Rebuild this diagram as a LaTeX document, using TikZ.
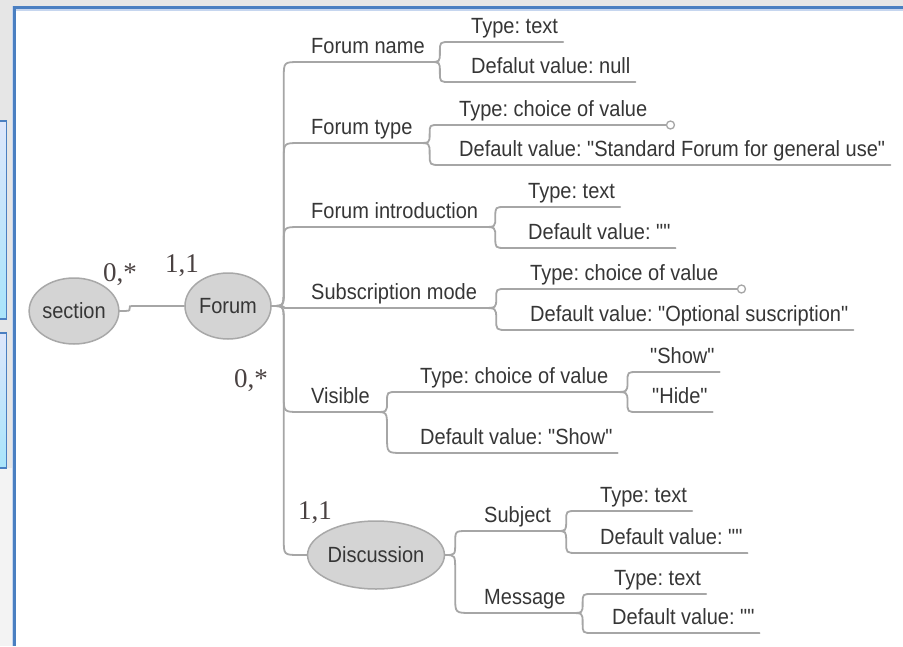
\documentclass[tikz,border=0pt]{standalone}
\usepackage{fontspec}
\setmainfont{Liberation Sans}[FakeStretch=0.91, Ligatures=TeXOff]
\newfontfamily\numfont{Liberation Serif}
\usetikzlibrary{shapes.geometric,calc}

\definecolor{framebg}{HTML}{E6E6E6}
\definecolor{paneltail}{HTML}{F3F3F3}
\definecolor{frameblue}{HTML}{4A7FC1}
\definecolor{framelight}{HTML}{C6D6EF}
\definecolor{boxtop}{HTML}{DDE6FB}
\definecolor{boxbot}{HTML}{A8E4FB}
\definecolor{linkgray}{HTML}{A6A6A6}
\definecolor{ovalfill}{HTML}{D4D4D4}
\definecolor{ovaledge}{HTML}{A8A8A8}
\definecolor{ink}{HTML}{363636}
\definecolor{numink}{HTML}{4A4242}

\frenchspacing
\begin{document}
\begin{tikzpicture}[x=1pt,y=-1pt,
  every node/.style={font=\fontsize{22}{24}\selectfont, text=ink},
  oval/.style={ellipse, draw=ovaledge, fill=ovalfill, line width=1.5pt, inner sep=0pt},
  leaf/.style={anchor=south west, inner xsep=5pt, inner ysep=0pt, text height=16pt, text depth=8pt},
  card/.style={font=\numfont\fontsize{27}{30}\selectfont, text=numink, anchor=base west, inner sep=0pt},
  link/.style={draw=linkgray, line width=1.8pt, line cap=round},
  knob/.style={circle, draw=linkgray, fill=white, line width=1.3pt, minimum size=8pt, inner sep=0pt},
  trunk/.store in=\trunkd, trunk=12,
  branch/.style={to path={let \p1=(\tikztostart), \p2=(\tikztotarget),
     \n1={ifthenelse(\y2>\y1,1,-1)}, \n2={min(abs(\y2-\y1)/2,16pt)} in
     (\p1) .. controls (\x1+\trunkd*1pt,\y1) .. (\x1+\trunkd*1pt,\y1+\n1*\n2*1pt)
     -- (\x1+\trunkd*1pt,\y2-\n1*\n2*1pt)
     .. controls (\x1+\trunkd*1pt,\y2) .. (\x1+\trunkd*1pt+\n2*1pt,\y2)
     -- (\p2)}}
]
\useasboundingbox (0,0) rectangle (903,646);

% window background and frame
\fill[framebg] (0,0) rectangle (903,646);
\fill[paneltail] (0,468) rectangle (12,646);
\fill[white] (15.5,9) rectangle (903,646);
\fill[framelight] (15.5,9) rectangle (903,10.5);
\fill[framelight] (12,6) rectangle (13,646);
\draw[frameblue, line width=3pt] (14.5,646) -- (14.5,7.5) -- (903,7.5);
\shadedraw[top color=boxtop, bottom color=boxbot, draw=frameblue, line width=1.5pt]
  (-5,121) rectangle (6.5,319);
\shadedraw[top color=boxtop, bottom color=boxbot, draw=frameblue, line width=1.5pt]
  (-5,333) rectangle (6.5,468);

% entities
\node[oval, minimum width=88pt, minimum height=66pt] (section) at (74,311) {section};
\node[oval, minimum width=86pt, minimum height=66pt] (forum) at (228,306) {Forum};
\node[oval, minimum width=134pt, minimum height=68pt] (discussion) at (376,555) {Discussion};

% cardinalities
\node[card] (cardA) at (103,281) {0,*};
\node[card] (cardB) at (165,272) {1,1};
\node[card] (cardC) at (234,387) {0,*};
\node[card] (cardD) at (298,519) {1,1};

% attributes of Forum
\node[leaf] (fname)  at (306,62)  {Forum name};
\node[leaf] (ftype)  at (306,143) {Forum type};
\node[leaf] (fintro) at (306,227) {Forum introduction};
\node[leaf] (fsub)   at (306,308) {Subscription mode};
\node[leaf] (fvis)   at (306,412) {Visible};

\node[leaf] (fnameT)  at (466,42)  {Type: text};
\node[leaf] (fnameD)  at (466,82)  {Defalut value: null};
\node[leaf] (ftypeT)  at (454,125) {Type: choice of value};
\node[leaf] (ftypeD)  at (454,165) {Default value: "Standard Forum for general use"};
\node[leaf] (fintroT) at (523,207) {Type: text};
\node[leaf] (fintroD) at (523,248) {Default value: ""};
\node[leaf] (fsubT)   at (525,289) {Type: choice of value};
\node[leaf] (fsubD)   at (525,330) {Default value: "Optional suscription"};
\node[leaf] (fvisT)   at (415,392) {Type: choice of value};
\node[leaf] (fvisD)   at (415,453) {Default value: "Show"};
\node[leaf] (show)    at (645,372) {"Show"};
\node[leaf] (hide)    at (647,412) {"Hide"};

% attributes of Discussion
\node[leaf] (subj)  at (479,531) {Subject};
\node[leaf] (msg)   at (479,613) {Message};
\node[leaf] (subjT) at (595,511) {Type: text};
\node[leaf] (subjD) at (595,553) {Default value: ""};
\node[leaf] (msgT)  at (609,594) {Type: text};
\node[leaf] (msgD)  at (607,633) {Default value: ""};

\coordinate (ftypeK) at ([xshift=18pt]ftypeT.south east);
\coordinate (fsubK)  at ([xshift=18pt]fsubT.south east);

% connectors
\draw[link, trunk=10] (section.east) to[branch] (forum.west);
\foreach \c in {fname,ftype,fintro,fsub,fvis}
  \draw[link, trunk=12] (forum.east) to[branch] (\c.south west) -- (\c.south east);
\draw[link, trunk=12] (forum.east) to[branch] (discussion.west);

\draw[link, trunk=10] (fname.south east) to[branch] (fnameT.south west) -- (fnameT.south east);
\draw[link, trunk=10] (fname.south east) to[branch] (fnameD.south west) -- (fnameD.south east);
\draw[link, trunk=12] (ftype.south east) to[branch] (ftypeT.south west) -- (ftypeK);
\draw[link, trunk=12] (ftype.south east) to[branch] (ftypeD.south west) -- (ftypeD.south east);
\draw[link, trunk=12] (fintro.south east) to[branch] (fintroT.south west) -- (fintroT.south east);
\draw[link, trunk=12] (fintro.south east) to[branch] (fintroD.south west) -- (fintroD.south east);
\draw[link, trunk=14] (fsub.south east) to[branch] (fsubT.south west) -- (fsubK);
\draw[link, trunk=14] (fsub.south east) to[branch] (fsubD.south west) -- (fsubD.south east);
\draw[link, trunk=12] (fvis.south east) to[branch] (fvisT.south west) -- (fvisT.south east);
\draw[link, trunk=12] (fvis.south east) to[branch] (fvisD.south west) -- (fvisD.south east);
\draw[link, trunk=14] (fvisT.south east) to[branch] (show.south west) -- (show.south east);
\draw[link, trunk=14] (fvisT.south east) to[branch] (hide.south west) -- (hide.south east);

\draw[link, trunk=10] (discussion.east) to[branch] (subj.south west) -- (subj.south east);
\draw[link, trunk=10] (discussion.east) to[branch] (msg.south west) -- (msg.south east);
\draw[link, trunk=10] (subj.south east) to[branch] (subjT.south west) -- (subjT.south east);
\draw[link, trunk=10] (subj.south east) to[branch] (subjD.south west) -- (subjD.south east);
\draw[link, trunk=12] (msg.south east) to[branch] (msgT.south west) -- (msgT.south east);
\draw[link, trunk=12] (msg.south east) to[branch] (msgD.south west) -- (msgD.south east);

\node[knob] (ftypeKnob) at (ftypeK) {};
\node[knob] (fsubKnob)  at (fsubK) {};
\end{tikzpicture}
\end{document}
